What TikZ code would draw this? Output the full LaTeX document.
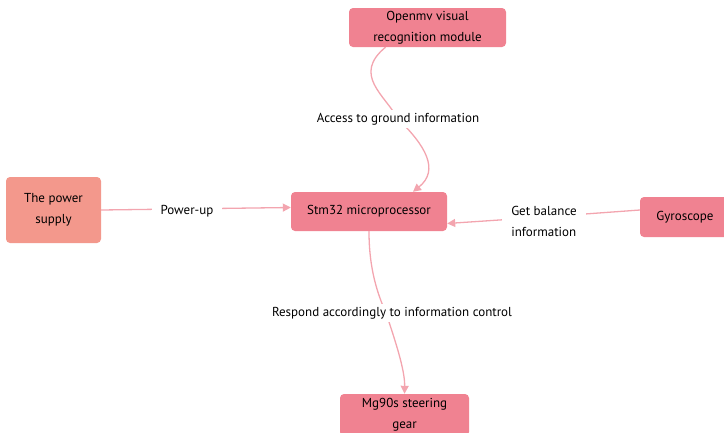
\documentclass[tikz,border=0pt]{standalone}
\usepackage{fontspec}
\setmainfont{PT Sans}
\usepackage{tikz}
\usetikzlibrary{arrows.meta,% filled arrow tips
calc}
\definecolor{boxpink}{RGB}{240,130,145}
\definecolor{boxsalmon}{RGB}{243,152,140}
\definecolor{linkpink}{RGB}{243,165,175}
\tikzset{every node/.style={font=\fontsize{13}{21}\selectfont},
  box/.style={fill=boxpink, rounded corners=4pt, minimum height=39pt, align=center, inner sep=2pt},
  link/.style={linkpink, line width=1.3pt, -{Triangle[length=8pt,width=8pt]}},
  lbl/.style={fill=white, align=center, inner xsep=9pt, inner ysep=3pt}}

\begin{document}
\begin{tikzpicture}[x=1pt, y=-1pt]
  \useasboundingbox (0,0) rectangle (724,432);
  \node[box, minimum width=157pt] (openmv) at (427.5,27.5) {Openmv visual\\recognition module};
  \node[box, fill=boxsalmon, minimum width=95pt, minimum height=66pt] (power) at (53.5,210) {The power\\supply};
  \node[box, minimum width=156pt] (stm) at (369,211.5) {Stm32 microprocessor};
  \node[box, minimum width=90pt, minimum height=40pt] (gyro) at (685,217) {Gyroscope};
  \node[box, minimum width=129pt, minimum height=42pt] (mg) at (404.5,415) {Mg90s steering\\gear};
  \coordinate (bend) at (386,313);
  % connectors, labels drawn on top
  \draw[link] ([xshift=-42pt]openmv.south) .. controls (352,75) and (385,95) .. (398,119)
    .. controls (425,145) and (440,170) .. ([xshift=44pt]stm.north);
  \draw[link] (power.east) -- ([yshift=4pt]stm.west);
  \draw[link] ([yshift=7pt]gyro.west) -- (544,217) -- ([yshift=-12pt]stm.east);
  \draw[link] (stm.south) .. controls (369,270) and (378,295) .. (bend)
    .. controls (395,340) and (405,370) .. (mg.north);
  \node[lbl] (access) at (398,119) {Access to ground information};
  \node[lbl] (powerup) at (187,211) {Power-up};
  \node[lbl, align=left] (balance) at (544,221) {Get balance\\information};
  \node[lbl] (respond) at (392,313) {Respond accordingly to information control};
\end{tikzpicture}
\end{document}
